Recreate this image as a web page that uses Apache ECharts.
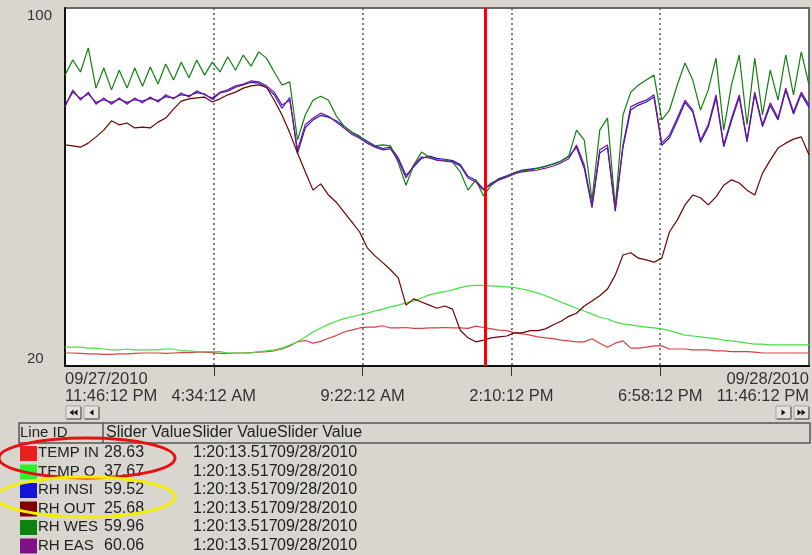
<!DOCTYPE html>
<html>
<head>
<meta charset="utf-8">
<script src="https://cdn.jsdelivr.net/npm/echarts@6/dist/echarts.min.js"></script>
<style>
html,body{margin:0;padding:0;background:#d9d6d0;}
#main{width:812px;height:555px;}
</style>
</head>
<body>
<div id="main"></div>
<script>
var myChart = echarts.init(document.getElementById('main'));

// logger samples every 15 min, hours since 09/27/2010 11:46:12 PM
var stepHours = 0.25;
var sliderHour = 13.567;   // 1:20:13.517 PM

var xTickLabels = ['09/27/2010\n11:46:12 PM', '\n4:34:12 AM', '\n9:22:12 AM', '\n2:10:12 PM', '\n6:58:12 PM', '09/28/2010\n11:46:12 PM'];
var xTickHours = [4.8, 9.6, 14.4, 19.2];
var yTickLabels = [20, 100];

var lineIds = ['TEMP INSIDE', 'TEMP OUTSIDE', 'RH INSIDE', 'RH OUTSIDE', 'RH WEST', 'RH EAST'];
var swatchColors = ['#e8231f', '#2cf02c', '#1414d8', '#800000', '#0e820e', '#801088'];
var lineColors = ['#d84040', '#44e044', '#1a1ad4', '#6e0000', '#108010', '#7e1288'];
var sliderValues = ['28.63', '37.67', '59.52', '25.68', '59.96', '60.06'];
var sliderTime = '1:20:13.517';
var sliderDate = '09/28/2010';

var tempInside = [22.9,22.9,22.8,22.7,22.7,22.6,22.6,22.7,22.7,22.8,22.9,22.9,22.9,22.8,22.9,23.0,23.0,23.1,23.1,23.0,22.8,22.8,22.9,22.9,23.0,23.1,
  23.2,23.4,23.8,24.5,25.4,25.7,25.1,25.5,26.2,26.8,27.6,28.0,28.5,28.7,28.7,
  29.0,28.5,28.5,28.6,28.4,28.4,28.5,28.5,28.6,28.5,28.5,28.4,28.9,28.6,28.3,
  28.0,27.9,27.4,27.2,26.9,26.5,26.3,26.1,25.8,25.6,25.4,25.4,
  26.1,25.1,24.2,25.1,25.6,24.0,24.0,24.2,24.5,24.5,23.8,23.8,23.8,
  23.6,23.6,23.6,23.4,23.4,23.2,23.2,23.2,23.1,22.9,22.9,22.9,22.9,22.9,22.9,22.9];

var tempOutside = [24.2,24.2,24.2,24.0,24.0,23.8,23.6,23.6,23.8,23.6,23.6,23.6,23.6,23.8,23.8,
  23.4,23.4,23.2,23.2,23.2,23.2,22.9,22.9,22.9,22.9,23.2,23.4,23.6,24.0,24.7,
  25.4,26.5,27.6,28.5,29.3,30.0,30.6,31.0,31.4,31.8,32.3,32.7,33.2,33.6,34.1,
  34.5,35.2,35.9,36.3,36.6,37.0,37.5,37.9,38.0,38.0,37.9,37.8,37.7,37.5,37.2,
  36.8,36.3,35.7,35.0,34.3,33.6,32.9,32.3,31.6,30.9,30.5,29.8,29.4,29.2,28.9,
  28.7,28.5,28.3,27.9,27.4,26.9,26.7,26.5,26.3,26.1,25.8,25.6,25.4,25.1,24.9,
  24.9,24.7,24.7,24.7,24.7,24.7,24.7];

var rhInside = [78.3,81.2,79.8,80.8,78.9,79.5,78.9,79.6,78.9,79.5,79.2,79.8,79.3,80.2,79.9,
  80.6,80.4,81.1,80.8,79.6,81.0,81.4,82.3,82.8,83.4,83.2,82.2,80.6,77.6,80.0,
  67.5,73.2,75.0,76.0,75.6,74.8,73.6,72.2,71.2,70.2,69.2,68.6,68.9,66.5,62.6,
  64.5,66.4,66.9,66.4,66.2,65.9,65.0,62.4,61.5,59.5,60.6,61.9,62.5,63.2,63.8,
  64.0,64.2,64.6,65.2,65.8,66.8,68.9,64.2,55.4,67.6,68.8,54.6,68.9,
  77.2,78.3,79.0,80.1,69.3,71.0,74.8,78.9,76.8,70.0,73.4,80.0,69.0,74.8,
  80.1,70.1,80.7,73.5,78.2,75.0,81.6,76.3,80.7,77.8];

var rhOutside = [69.4,69.2,68.9,69.8,71.2,72.7,74.8,73.9,74.3,73.2,73.4,73.2,74.5,
  75.4,77.4,79.2,79.7,79.9,80.1,79.0,79.7,80.6,81.2,82.1,82.6,82.8,82.3,
  79.4,76.1,72.1,67.6,63.4,59.3,60.7,58.2,56.6,54.4,52.2,50.0,46.4,44.6,43.1,41.5,39.7,
  33.6,35.0,34.3,33.6,32.9,33.4,32.7,28.0,26.3,25.4,25.8,26.3,26.5,26.7,
  27.4,27.4,27.9,27.9,28.3,29.2,30.0,31.1,31.8,33.4,34.5,35.7,37.2,40.3,
  44.8,45.3,44.1,43.7,43.2,44.1,50.0,52.6,56.0,58.2,57.6,56.0,57.8,
  60.4,61.6,60.9,59.3,58.2,63.1,66.0,68.7,69.8,70.7,71.2,67.2];

var rhWest = [85.0,88.4,85.7,91.1,82.1,86.6,81.7,86.1,82.1,86.6,82.5,86.8,83.0,87.5,83.9,
  87.9,84.4,88.4,85.0,87.9,85.7,89.1,86.1,89.5,87.0,90.2,88.8,85.7,82.8,83.5,
  70.5,76.1,79.4,80.3,79.4,75.9,73.6,72.3,71.4,69.8,69.2,69.4,69.2,65.4,60.4,
  64.9,67.8,66.7,66.0,66.0,65.6,63.4,59.3,61.6,58.0,60.4,61.6,62.4,63.1,63.6,
  63.8,64.2,64.7,65.1,65.8,66.9,72.7,70.5,57.1,72.7,75.4,55.5,76.1,
  81.2,82.8,83.9,85.0,75.0,77.2,82.8,87.7,83.9,77.2,81.7,88.8,72.7,82.8,
  89.5,73.9,88.8,76.1,86.1,79.4,89.5,80.6,90.2,82.8];

var rhEast = [77.9,81.7,79.4,81.2,78.5,79.9,78.5,79.9,78.5,79.9,78.8,80.1,79.0,80.6,79.7,
  81.0,80.1,81.5,80.6,79.9,81.2,81.7,82.6,83.0,83.7,83.5,82.6,81.2,78.3,79.4,
  68.3,73.9,75.4,76.5,75.8,74.5,73.2,71.8,70.9,69.8,68.9,68.3,68.5,66.0,62.0,
  64.9,66.7,66.5,66.0,65.8,65.6,64.7,62.0,61.1,59.3,60.9,61.6,62.2,62.9,63.4,
  63.6,63.8,64.2,64.7,65.4,66.3,69.4,64.9,56.0,68.3,69.4,55.0,69.4,
  77.9,78.8,79.4,80.6,69.8,71.6,75.4,79.4,77.2,70.5,73.9,80.6,69.4,75.4,
  80.6,70.5,81.2,73.9,78.8,75.4,82.1,76.8,81.2,78.3];

var seriesValues = [tempInside, tempOutside, rhInside, rhOutside, rhWest, rhEast];
var fontFam = '"Liberation Sans", Arial, sans-serif';

var series = seriesValues.map(function (vals, k) {
    return {
        name: lineIds[k],
        type: 'line',
        symbol: 'none',
        data: vals.map(function (v, i) { return [i * stepHours, v]; }),
        lineStyle: { color: lineColors[k], width: 1.2 },
        itemStyle: { color: lineColors[k] },
        silent: true
    };
});
// the slider
series[5].markLine = {
    silent: true,
    symbol: 'none',
    label: { show: false },
    lineStyle: { color: '#ff0000', width: 3, type: 'solid' },
    data: [{ xAxis: sliderHour }]
};

function navButton(x, dir, count) {
    var children = [
        { type: 'rect', shape: { x: 0, y: 0, width: 15, height: 13 }, style: { fill: '#e3e1dc', stroke: '#a7a39b', lineWidth: 1 } },
        { type: 'polyline', shape: { points: [[1, 13], [15, 13], [15, 1]] }, style: { stroke: '#505050', lineWidth: 1, fill: null } }
    ];
    for (var j = 0; j < count; j++) {
        var cx = count === 1 ? 7.5 : 5.5 + j * 4;
        var pts = dir < 0 ? [[cx - 2, 6.5], [cx + 2, 3.5], [cx + 2, 9.5]] : [[cx + 2, 6.5], [cx - 2, 3.5], [cx - 2, 9.5]];
        children.push({ type: 'polygon', shape: { points: pts }, style: { fill: '#111' } });
    }
    return { type: 'group', x: x, y: 406, children: children };
}

var graphics = [
    navButton(66, -1, 2), navButton(84, -1, 1), navButton(776, 1, 1), navButton(794, 1, 2),
    // table header
    { type: 'rect', shape: { x: 19, y: 423, width: 791, height: 20 }, style: { fill: 'none', stroke: '#555', lineWidth: 1.5 } },
    { type: 'line', shape: { x1: 103, y1: 423, x2: 103, y2: 443 }, style: { stroke: '#555', lineWidth: 1.5 } },
    { type: 'text', x: 20, y: 433, style: { text: 'Line ID', font: '15px ' + fontFam, fill: '#222', verticalAlign: 'middle' } }
];
[106, 192, 277].forEach(function (cx) {
    graphics.push({ type: 'text', x: cx, y: 433, style: { text: 'Slider Value', font: '16px ' + fontFam, fill: '#222', verticalAlign: 'middle' } });
});
lineIds.forEach(function (id, k) {
    var cy = 453 + k * 18.5;
    graphics.push({ type: 'rect', shape: { x: 20, y: cy - 7, width: 17, height: 15 }, style: { fill: swatchColors[k] } });
    graphics.push({ type: 'text', x: 38, y: cy, style: { text: id, font: '15px ' + fontFam, fill: '#222', verticalAlign: 'middle', width: 66, overflow: 'truncate', ellipsis: '' } });
    graphics.push({ type: 'text', x: 104, y: cy, style: { text: sliderValues[k], font: '16px ' + fontFam, fill: '#222', verticalAlign: 'middle' } });
    graphics.push({ type: 'text', x: 193, y: cy, style: { text: sliderTime, font: '16px ' + fontFam, fill: '#222', verticalAlign: 'middle' } });
    graphics.push({ type: 'text', x: 277, y: cy, style: { text: sliderDate, font: '16px ' + fontFam, fill: '#222', verticalAlign: 'middle' } });
});
// hand drawn markers
graphics.push({ type: 'ellipse', shape: { cx: 87, cy: 458, rx: 88, ry: 20 }, style: { fill: 'none', stroke: '#e81010', lineWidth: 3 } });
graphics.push({ type: 'ellipse', shape: { cx: 86, cy: 497, rx: 89, ry: 20 }, style: { fill: 'none', stroke: '#f0f000', lineWidth: 3 } });

var option = {
    backgroundColor: '#d9d6d0',
    animation: false,
    grid: {
        left: 65, right: 3, top: 8, bottom: 189,
        show: true,
        backgroundColor: '#ffffff',
        borderColor: '#6a6a6a',
        borderWidth: 2
    },
    xAxis: {
        type: 'value',
        min: 0, max: 24, interval: 4.8,
        axisLine: { lineStyle: { color: '#111', width: 2 } },
        axisTick: { show: true, length: 10, customValues: xTickHours, lineStyle: { color: '#333', width: 1 } },
        splitLine: { show: true, lineStyle: { color: '#555', type: [2, 3], width: 1.5 } },
        axisLabel: {
            formatter: function (v) { return xTickLabels[Math.round(v / 4.8)]; },
            fontSize: 16.5,
            fontFamily: fontFam,
            color: '#333',
            lineHeight: 17,
            margin: 5,
            alignMinLabel: 'left',
            alignMaxLabel: 'right'
        }
    },
    yAxis: {
        type: 'value',
        min: 20, max: 100, interval: 10,
        axisLine: { show: true, lineStyle: { color: '#111', width: 2 } },
        axisTick: { show: false },
        splitLine: { show: false },
        axisLabel: {
            formatter: function (v) { return yTickLabels.indexOf(v) >= 0 ? String(v) : ''; },
            align: 'left',
            margin: 38,
            fontSize: 15,
            fontFamily: fontFam,
            color: '#333',
            verticalAlignMinLabel: 'bottom',
            verticalAlignMaxLabel: 'top'
        }
    },
    graphic: graphics,
    series: series
};

myChart.setOption(option);
</script>
</body>
</html>
